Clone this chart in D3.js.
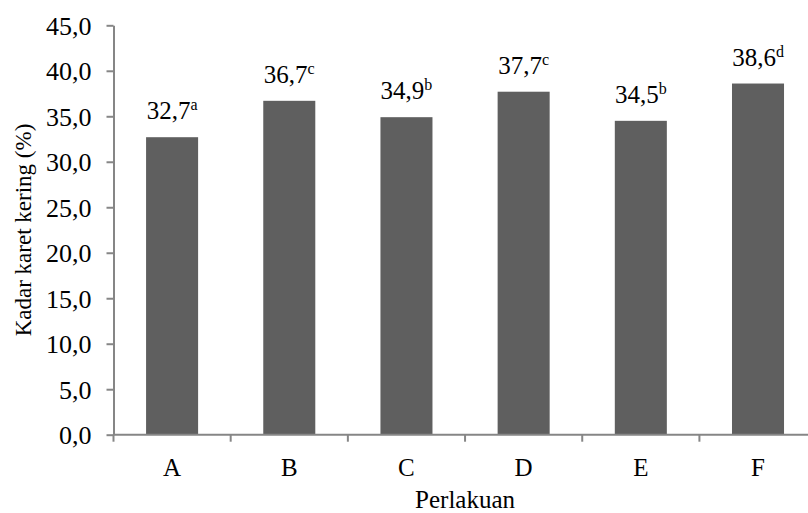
<!DOCTYPE html>
<html><head><meta charset="utf-8">
<script src="https://cdn.jsdelivr.net/npm/d3@7"></script>
<style>body{margin:0;background:#fff}svg{display:block}svg text{font-family:"Liberation Serif","Times New Roman",serif !important;fill:#000}</style>
</head><body><svg id="c" width="808" height="513"></svg>
<script>
const categories = ["A","B","C","D","E","F"];
const values = [32.7,36.7,34.9,37.7,34.5,38.6];
const letters = ["a","c","b","c","b","d"];
const yTicks = [0,5,10,15,20,25,30,35,40,45];
const xTitle = "Perlakuan";
const yTitle = "Kadar karet kering (%)";

const svg = d3.select("#c");
const mLeft = 113.5, mRight = 816.6, mTop = 25.3, mBottom = 434.7;
const x = d3.scaleBand().domain(categories).range([mLeft, mRight]).paddingInner(0.556).paddingOuter(0.278);
const y = d3.scaleLinear().domain([0,45]).range([mBottom, mTop]);
const fmt = v => d3.format(".1f")(v).replace(".", ",");
const axisColor = "#868686";
const serif = "Liberation Serif";

svg.append("g").selectAll("rect").data(values).join("rect")
  .attr("x", (d,i) => x(categories[i])).attr("width", x.bandwidth())
  .attr("y", d => y(d)).attr("height", d => y(0) - y(d))
  .attr("fill", "#5f5f5f");

// y axis
const ya = svg.append("g").attr("transform", `translate(${mLeft},0)`)
  .call(d3.axisLeft(y).tickValues(yTicks).tickFormat(fmt).tickSizeOuter(0).tickSizeInner(7).tickPadding(15));
ya.attr("font-family", serif);
ya.select(".domain").attr("stroke", axisColor).attr("stroke-width", 2);
ya.selectAll(".tick line").attr("stroke", axisColor).attr("stroke-width", 2);
ya.selectAll(".tick text").style("font-size", "26px").attr("dy", "0.34em").attr("fill", "#000");

// x axis line + boundary ticks
const xa = svg.append("g").attr("font-family", serif);
xa.append("line").attr("x1", mLeft).attr("x2", mRight).attr("y1", y(0)).attr("y2", y(0))
  .attr("stroke", axisColor).attr("stroke-width", 2);
const step = x.step();
xa.selectAll("line.t").data(d3.range(categories.length + 1)).join("line").attr("class","t")
  .attr("x1", i => mLeft + i*step).attr("x2", i => mLeft + i*step)
  .attr("y1", y(0)).attr("y2", y(0) + 7).attr("stroke", axisColor).attr("stroke-width", 2);
xa.selectAll("text").data(categories).join("text")
  .attr("x", d => x(d) + x.bandwidth()/2).attr("y", 475.5)
  .attr("text-anchor", "middle").style("font-size", "25px").text(d => d);

// value labels
const lab = svg.append("g").attr("font-family", serif).selectAll("text").data(values).join("text")
  .attr("x", (d,i) => x(categories[i]) + x.bandwidth()/2)
  .attr("y", d => y(d) - 18)
  .attr("text-anchor", "middle").style("font-size", "25px");
lab.append("tspan").text(d => fmt(d));
lab.append("tspan").attr("dy", -9).style("font-size", "16px").text((d,i) => letters[i]);

// titles
svg.append("text").attr("font-family", serif).attr("x", (mLeft + mRight)/2).attr("y", 507.5).attr("text-anchor","middle")
  .style("font-size","25px").text(xTitle);
svg.append("text").attr("font-family", serif).attr("transform", "translate(31,230) rotate(-90)").attr("text-anchor","middle")
  .style("font-size","23px").text(yTitle);
</script></body></html>
